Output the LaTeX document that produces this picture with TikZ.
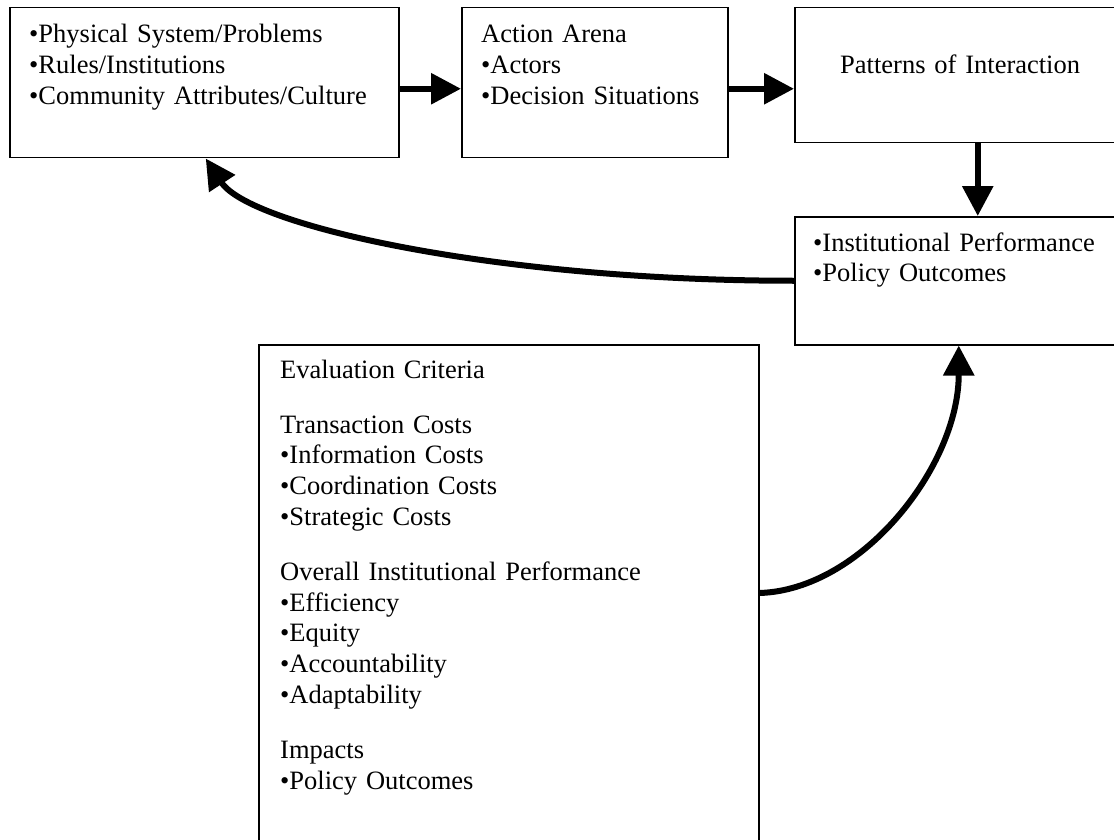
\documentclass[tikz,border=0pt]{standalone}
\usepackage{fontspec}
\setmainfont{Liberation Serif}
\usetikzlibrary{arrows.meta}
\begin{document}
\begin{tikzpicture}[x=1pt,y=-1pt,
  box/.style={draw, line width=1.5pt, rectangle, anchor=north west, inner sep=0pt},
  txt/.style={anchor=base west, inner sep=0pt, text width=#1, align=left,
    font=\fontsize{26.5}{30.7}\selectfont},
  flow/.style={line width=6pt, -{Triangle[length=30pt,width=30pt]}},
]
\useasboundingbox (0,0) rectangle (1114,840);
\clip (0,0) rectangle (1114,840);
% boxes
\node[box, minimum width=389pt, minimum height=150pt] (b1) at (9,7) {};
\node[box, minimum width=266pt, minimum height=150pt] (b2) at (461,7) {};
\node[box, minimum width=366pt, minimum height=135pt] (b3) at (794,7) {};
\node[box, minimum width=366pt, minimum height=128pt] (b4) at (794,216) {};
\node[box, minimum width=500pt, minimum height=600pt] (b5) at (258,344) {};
% texts
\node[txt=380pt] (t1) at (29,43) {•Physical System/Problems\\•Rules/Institutions\\•Community Attributes/Culture};
\node[txt=240pt] (t2) at (481,43) {Action Arena\\•Actors\\•Decision Situations};
\node[txt=280pt] (t3) at (840,74) {Patterns of Interaction};
\node[txt=300pt] (t4) at (813,251) {•Institutional Performance\\•Policy Outcomes};
\node[txt=460pt] (t5) at (280,378) {Evaluation Criteria\\[24.5pt]
Transaction Costs\\•Information Costs\\•Coordination Costs\\•Strategic Costs\\[24.5pt]
Overall Institutional Performance\\•Efficiency\\•Equity\\•Accountability\\•Adaptability\\[24.5pt]
Impacts\\•Policy Outcomes};
% connectors
\coordinate (r1) at ([yshift=-6pt]b1.east);
\coordinate (r2) at ([yshift=-6pt]b2.east);
\draw[flow] (r1) -- (r1 -| b2.west);
\draw[flow] (r2) -- (r2 -| b3.west);
\draw[flow] (b3.south) -- (b4.north);
\draw[flow] (b4.west) .. controls +(-300,0) and +(44,67) .. ([xshift=1.5pt]b1.south);
\draw[flow] ([yshift=-249pt]b5.north east) .. controls +(102,-3) and +(0,121) .. ([xshift=-19pt]b4.south);
\end{tikzpicture}
\end{document}
